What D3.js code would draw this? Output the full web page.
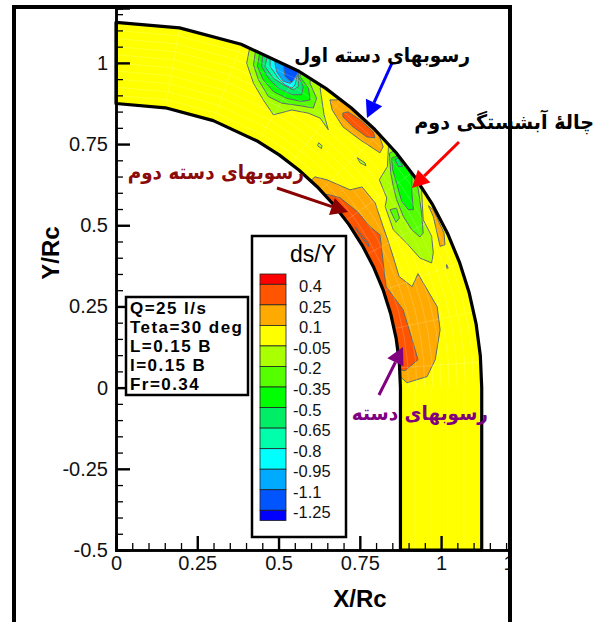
<!DOCTYPE html>
<html><head><meta charset="utf-8">
<script src="https://cdnjs.cloudflare.com/ajax/libs/d3/7.8.5/d3.min.js"></script>
<style>html,body{margin:0;padding:0;background:#fff}svg{display:block}text{font-family:"Liberation Sans",Arial,sans-serif}</style>
</head><body><svg id="c" width="605" height="622"></svg>
<script>
// ---------- data ----------
const legendLevels=[0.4,0.25,0.1,-0.05,-0.2,-0.35,-0.5,-0.65,-0.8,-0.95,-1.1,-1.25];
const bandColors=["#ff0000","#ff5500","#ffaa00","#ffff00","#aaff00","#55ff00","#00ff00","#00ee66","#00ffaa","#00ffff","#00aaff","#0055ff","#0000ff"];
const xMajor=[0,0.25,0.5,0.75,1,1.25];
const yMajor=[-0.5,-0.25,0,0.25,0.5,0.75,1];
const xMinor=[0.05,0.1,0.15,0.2,0.3,0.35,0.4,0.45,0.55,0.6,0.65,0.7,0.8,0.85,0.9,0.95,1.05,1.1,1.15,1.2];
const yMinor=[-0.45,-0.4,-0.35,-0.3,-0.2,-0.15,-0.1,-0.05,0.05,0.1,0.15,0.2,0.3,0.35,0.4,0.45,0.55,0.6,0.65,0.7,0.8,0.85,0.9,0.95,1.05,1.1,1.15];
const infoLines=["Q=25 l/s","Teta=30 deg","L=0.15 B","l=0.15 B","Fr=0.34"];
const wallAngles=[0,10,20,30,35,40,45,50,55,60,65,70,75,80,85,90];
const meshAngles=[10,20,30,38,46,54,62,70,78,86];
const meshRadii=[0.9,0.925,0.95,0.975,1,1.025,1.05,1.075,1.1];
const meshDown=[0.92,0.97,1.02,1.07];
const innerRadius=0.875, outerRadius=1.125, channelEnd=-0.5;

// contour regions in X/Rc, Y/Rc; [band index in bandColors, points]
const top1=[[.410,1.040],[.402,.999],[.423,.937],[.453,.886],[.484,.840],[.541,.855],[.592,.845],[.628,.830],[.653,.794],[.640,.840],[.628,.922],[.66,.98],[.45,1.09]];
const top2=[[.428,1.030],[.423,.994],[.438,.948],[.469,.896],[.510,.876],[.566,.868],[.607,.861],[.617,.891],[.597,.937],[.60,1.0],[.45,1.09]];
const top3=[[.441,1.025],[.435,.989],[.453,.948],[.484,.912],[.525,.891],[.571,.881],[.597,.886],[.592,.922],[.566,.958],[.58,1.02],[.46,1.09]];
const top4=[[.451,1.019],[.448,.989],[.469,.953],[.499,.922],[.541,.902],[.571,.902],[.576,.927],[.561,.958],[.56,1.03],[.47,1.09]];
const top5=[[.464,1.014],[.458,.989],[.484,.953],[.515,.932],[.546,.917],[.561,.927],[.561,.958],[.54,1.03],[.48,1.09]];
const top6=[[.474,1.009],[.474,.989],[.499,.953],[.520,.932],[.541,.922],[.551,.932],[.558,.963],[.53,1.03],[.49,1.09]];
const top7=[[.489,.999],[.494,.973],[.515,.943],[.537,.937],[.548,.958],[.558,.968],[.53,1.04],[.50,1.08]];
const top8=[[.515,.989],[.520,.958],[.541,.939],[.551,.953],[.561,.968],[.55,1.03]];
const outerOrange=[[.658,.886],[.665,.855],[.698,.803],[.751,.763],[.812,.723],[.822,.742],[.80,.80],[.70,.90],[.680,.886]];
const outerRed=[[.698,.846],[.698,.834],[.729,.803],[.772,.772],[.797,.769],[.791,.788],[.751,.825],[.714,.849]];
const speck1=[[.623,.754],[.634,.745],[.632,.736],[.620,.745]];
const speck2=[[.742,.708],[.766,.692],[.769,.683],[.751,.692]];
const mid1=[[.838,.743],[.835,.681],[.810,.640],[.833,.584],[.828,.558],[.853,.486],[.894,.445],[.935,.399],[.971,.384],[.976,.415],[.971,.466],[.945,.517],[.940,.609],[.915,.650],[.90,.72]];
const mid2=[[.841,.722],[.845,.661],[.853,.620],[.863,.579],[.884,.527],[.910,.486],[.935,.464],[.945,.476],[.940,.538],[.930,.609],[.920,.661],[.88,.74]];
const mid3=[[.848,.707],[.851,.671],[.863,.630],[.879,.573],[.899,.548],[.915,.548],[.910,.599],[.910,.650],[.874,.717]];
const mid4=[[.858,.702],[.869,.681],[.882,.681],[.869,.707]];
const midBlob=[[.843,.548],[.863,.553],[.872,.522],[.861,.509]];
const rightStrip=[[.961,.560],[.976,.527],[.997,.435],[1.012,.440],[1.009,.476],[.976,.548]];
const rightSpeck=[[1.017,.379],[1.022,.368],[1.017,.368]];
const innerOrange=[[.612,.649],[.649,.640],[.720,.609],[.757,.618],[.797,.569],[.822,.495],[.843,.434],[.858,.385],[.871,.342],[.911,.311],[.929,.351],[.945,.323],[.988,.249],[.997,.178],[.982,.086],[.957,.034],[.895,.015],[.874,.034],[.80,.05],[.70,.40],[.58,.62]];
const innerRed=[[.655,.594],[.689,.585],[.742,.542],[.782,.495],[.812,.471],[.822,.385],[.828,.332],[.831,.311],[.883,.240],[.911,.148],[.929,.086],[.889,.052],[.874,.055],[.80,.10],[.70,.40],[.60,.60]];
const innerSliver=[[.735,.495],[.775,.446],[.778,.434],[.745,.477]];
const regions=[[4,top1],[5,top2],[6,top3],[7,top4],[8,top5],[9,top6],[10,top7],[11,top8],
 [2,outerOrange],[1,outerRed],[4,speck1],[4,speck2],
 [4,mid1],[5,mid2],[6,mid3],[7,mid4],[5,midBlob],[2,rightStrip],[2,rightSpeck],
 [2,innerOrange],[1,innerRed],[1,innerSliver]];

const notes=[
 {t:"رسوبهای دسته اول",x:470,y:62,k:.92,c:"#000"},
 {t:"چالهٔ آبشستگی دوم",x:594,y:129,k:.957,c:"#000"},
 {t:"رسوبهای دسته دوم",x:304,y:179,k:.92,c:"#8b0a0a"},
 {t:"رسوبهای دسته",x:488,y:420,k:.925,c:"#800080"}];
const arrows=[
 {a:[392,63],b:[367,118],c:"#0000ff"},
 {a:[459,142],b:[412,188],c:"#ff0000"},
 {a:[277,188],b:[348,212],c:"#8b0000"},
 {a:[379,395],b:[403,347],c:"#800080"}];

// ---------- drawing ----------
const svg=d3.select("#c");
const x=d3.scaleLinear().domain([0,1.212]).range([116,510]);
const y=d3.scaleLinear().domain([-0.5,1.169]).range([550,8]);
const rad=d=>d*Math.PI/180;
const outerPts=wallAngles.map(a=>[outerRadius*Math.sin(rad(a)),outerRadius*Math.cos(rad(a))]);
const innerPts=wallAngles.map(a=>[innerRadius*Math.sin(rad(a)),innerRadius*Math.cos(rad(a))]);
const channel=[...outerPts,[outerRadius,channelEnd],[innerRadius,channelEnd],...innerPts.slice().reverse()];
const line=d3.line().x(d=>x(d[0])).y(d=>y(d[1]));
const defs=svg.append("defs");
defs.append("clipPath").attr("id","ch").append("path").attr("d",line(channel)+"Z");
defs.append("clipPath").attr("id","fr").append("rect").attr("x",0).attr("y",0).attr("width",510).attr("height",622);

svg.append("path").attr("d",line(channel)+"Z").attr("fill",bandColors[3]);
const field=svg.append("g").attr("clip-path","url(#ch)");
field.selectAll("path.r").data(regions).join("path").attr("class","r")
 .attr("d",d=>line(d[1])+"Z").attr("fill",d=>bandColors[d[0]])
 .attr("stroke","#5f6b6b").attr("stroke-width",1).attr("stroke-linejoin","round");
// computational mesh
const mesh=field.append("g").attr("stroke","#fff").attr("stroke-opacity",.3).attr("stroke-width",.6).attr("fill","none");
meshAngles.forEach(a=>mesh.append("path").attr("d",line([[innerRadius*Math.sin(rad(a)),innerRadius*Math.cos(rad(a))],[outerRadius*Math.sin(rad(a)),outerRadius*Math.cos(rad(a))]])));
meshRadii.forEach(r=>mesh.append("path").attr("d",line(wallAngles.map(a=>[r*Math.sin(rad(a)),r*Math.cos(rad(a))]))));
meshDown.forEach(v=>mesh.append("path").attr("d",line([[v,0],[v,channelEnd]])));
svg.append("path").attr("d",line(channel)+"Z").attr("fill","none").attr("stroke","#000").attr("stroke-width",3.2).attr("stroke-linejoin","round");

// axes
const ax=svg.append("g").attr("clip-path","url(#fr)");
const fmt=d=>String(d);
const styleAxis=(g,w)=>{g.selectAll("line").attr("stroke","#000").attr("stroke-width",w);g.select(".domain").attr("stroke","#000").attr("stroke-width",2.5);};
ax.append("g").attr("transform",`translate(0,${y(-0.5)})`).call(d3.axisBottom(x).tickValues(xMinor).tickSize(-7).tickFormat("")).call(styleAxis,1.3);
ax.append("g").attr("transform",`translate(${x(0)},0)`).call(d3.axisLeft(y).tickValues(yMinor).tickSize(-7).tickFormat("")).call(styleAxis,1.3);
const xa=ax.append("g").attr("transform",`translate(0,${y(-0.5)})`).call(d3.axisBottom(x).tickValues(xMajor).tickSize(-14).tickPadding(6).tickFormat(fmt)).call(styleAxis,2.4);
const ya=ax.append("g").attr("transform",`translate(${x(0)},0)`).call(d3.axisLeft(y).tickValues(yMajor).tickSize(-14).tickPadding(8).tickFormat(fmt)).call(styleAxis,2.4);
[xa,ya].forEach(g=>g.selectAll("text").attr("font-size",20).attr("font-family",'"Liberation Sans",Arial,sans-serif').attr("fill","#111"));

svg.append("text").attr("x",360).attr("y",607).attr("text-anchor","middle").attr("font-size",24).attr("font-weight","bold").text("X/Rc");
svg.append("text").attr("transform","translate(59,253) rotate(-90)").attr("text-anchor","middle").attr("font-size",24).attr("font-weight","bold").text("Y/Rc");

// frame
svg.append("path").attr("d","M14,622V7H510V622").attr("fill","none").attr("stroke","#000").attr("stroke-width",4);

// info box
svg.append("rect").attr("x",126).attr("y",297).attr("width",122).attr("height",98).attr("fill","#fff").attr("stroke","#000").attr("stroke-width",2.5);
svg.selectAll("text.i").data(infoLines).join("text").attr("class","i").attr("x",130)
 .attr("y",(d,i)=>314+i*19.1).attr("font-size",17).attr("font-weight","bold").attr("letter-spacing",1.45).text(d=>d);

// legend
const ly=d3.scaleLinear().domain([0.4,-1.25]).range([284.3,510.3]);
svg.append("rect").attr("x",252).attr("y",236).attr("width",94).attr("height",301).attr("fill","#fff").attr("stroke","#000").attr("stroke-width",2.5);
svg.append("text").attr("x",290).attr("y",262).attr("font-size",23).text("ds/Y");
const edges=[ly(0.4)-10.3,...legendLevels.map(ly),ly(-1.25)+10.3];
svg.selectAll("rect.s").data(bandColors).join("rect").attr("class","s").attr("x",260).attr("width",26)
 .attr("y",(d,i)=>edges[i]).attr("height",(d,i)=>edges[i+1]-edges[i]).attr("fill",d=>d).attr("stroke","#222").attr("stroke-width",.8);
svg.selectAll("text.l").data(legendLevels).join("text").attr("class","l").attr("x",d=>d<0?293:299).attr("y",d=>ly(d)+8)
 .attr("font-size",16.5).attr("fill","#111").text(d=>String(d));

// arrows
arrows.forEach(r=>{
 const dx=r.b[0]-r.a[0],dy=r.b[1]-r.a[1],L=Math.hypot(dx,dy),ux=dx/L,uy=dy/L,h=17,w=9;
 const bx=r.b[0]-ux*h,by=r.b[1]-uy*h;
 svg.append("line").attr("x1",r.a[0]).attr("y1",r.a[1]).attr("x2",bx).attr("y2",by).attr("stroke",r.c).attr("stroke-width",3);
 svg.append("path").attr("d",`M${r.b}L${bx-uy*w},${by+ux*w}L${bx+uy*w},${by-ux*w}Z`).attr("fill",r.c);
});
svg.selectAll("text.n").data(notes).join("text").attr("class","n")
 .attr("transform",d=>`translate(${d.x},${d.y}) scale(${d.k},1)`)
 .attr("direction","rtl").attr("text-anchor","start").attr("font-size",20).attr("font-weight","bold").attr("fill",d=>d.c)
 .style("font-family",'"DejaVu Sans",sans-serif').text(d=>d.t);
</script></body></html>
